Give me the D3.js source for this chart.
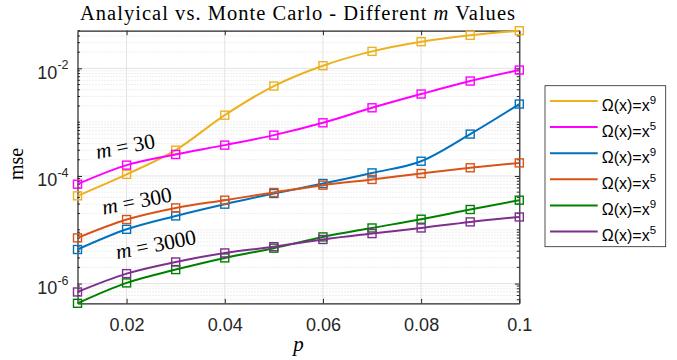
<!DOCTYPE html>
<html>

<head>
    <title>Analytical vs Monte Carlo</title>
    <script src="https://d3js.org/d3.v7.min.js"></script>
    <style>
        body {
            margin: 0;
            background: #fff;
        }

        .serif {
            font-family: "Liberation Serif", "Times New Roman", serif;
        }

        .sans {
            font-family: "Liberation Sans", Arial, sans-serif;
        }

        .axis path,
        .axis line {
            stroke: #262626;
        }
    </style>
</head>

<body>
    <div id="graph"></div>
    <script>
        // p values on the x axis
        const pValues = [0.01, 0.02, 0.03, 0.04, 0.05, 0.06, 0.07, 0.08, 0.09, 0.1];

        // mse values, one array per curve
        const m30x9 = [4.27e-5, 1.07e-4, 3.02e-4, 1.35e-3, 4.69e-3, 1.12e-2, 2.07e-2, 3.13e-2, 4.11e-2, 5.01e-2];
        const m30x5 = [7.03e-5, 1.59e-4, 2.51e-4, 3.74e-4, 5.74e-4, 9.73e-4, 1.85e-3, 3.33e-3, 5.81e-3, 9.3e-3];
        const m300x9 = [4.3e-6, 1.02e-5, 1.81e-5, 2.99e-5, 4.72e-5, 7.24e-5, 1.14e-4, 1.88e-4, 6.0e-4, 2.17e-3];
        const m300x5 = [7.06e-6, 1.55e-5, 2.55e-5, 3.55e-5, 4.93e-5, 6.75e-5, 8.61e-5, 1.11e-4, 1.42e-4, 1.75e-4];
        const m3000x9 = [4.3e-7, 1.03e-6, 1.82e-6, 3.0e-6, 4.55e-6, 7.37e-6, 1.08e-5, 1.57e-5, 2.38e-5, 3.55e-5];
        const m3000x5 = [6.98e-7, 1.53e-6, 2.52e-6, 3.71e-6, 4.85e-6, 6.6e-6, 8.5e-6, 1.08e-5, 1.4e-5, 1.73e-5];

        const seriesNames = ["m30x9", "m30x5", "m300x9", "m300x5", "m3000x9", "m3000x5"];
        const seriesValues = [m30x9, m30x5, m300x9, m300x5, m3000x9, m3000x5];
        const seriesExponents = ["9", "5", "9", "5", "9", "5"];
        const seriesColors = ["#EDB120", "#FF00FF", "#0072BD", "#D95319", "#008000", "#7E2F8E"];

        const xTicks = [0.02, 0.04, 0.06, 0.08, 0.1];
        const yTicks = [1e-6, 1e-4, 1e-2];

        // m annotations: label and the p / mse point where the text starts
        const annotations = [
            { label: "30", p: 0.0140, v: 2.06e-4 },
            { label: "300", p: 0.0153, v: 1.9e-5 },
            { label: "3000", p: 0.0181, v: 2.83e-6 }
        ];

        const totalWidth = 677, totalHeight = 360;
        const margin = { top: 30.7, right: 157.7, bottom: 56.7, left: 77.5 },
            width = totalWidth - margin.left - margin.right,
            height = totalHeight - margin.top - margin.bottom;

        const svg = d3.select("#graph").append("svg")
            .attr("width", totalWidth)
            .attr("height", totalHeight);

        const g = svg.append("g")
            .attr("transform", "translate(" + margin.left + "," + margin.top + ")");

        const x = d3.scaleLinear()
            .domain(d3.extent(pValues))
            .range([0, width]);

        const allValues = seriesValues.flat();
        const y = d3.scaleLog()
            .domain(d3.extent(allValues))
            .range([height, 0]);

        // minor tick / grid positions on the log axis
        const minorY = [];
        for (let e = -7; e <= -1; e++) {
            for (let k = 1; k <= 9; k++) {
                const v = k * Math.pow(10, e);
                if (v >= y.domain()[0] && v <= y.domain()[1] && !yTicks.some(t => Math.abs(t - v) < v * 1e-6)) minorY.push(v);
            }
        }

        // grid
        g.append("g")
            .selectAll("line")
            .data(minorY)
            .enter().append("line")
            .attr("x1", 0).attr("x2", width)
            .attr("y1", d => y(d)).attr("y2", d => y(d))
            .attr("stroke", "#c8c8c8")
            .attr("stroke-width", 0.6)
            .attr("stroke-dasharray", "1,2");

        g.append("g")
            .selectAll("line")
            .data(yTicks)
            .enter().append("line")
            .attr("x1", 0).attr("x2", width)
            .attr("y1", d => y(d)).attr("y2", d => y(d))
            .attr("stroke", "#e3e3e3")
            .attr("stroke-width", 1);

        g.append("g")
            .selectAll("line")
            .data(xTicks)
            .enter().append("line")
            .attr("x1", d => x(d)).attr("x2", d => x(d))
            .attr("y1", 0).attr("y2", height)
            .attr("stroke", "#e3e3e3")
            .attr("stroke-width", 1);

        // axes with inward ticks on all four sides
        const xAxis = g.append("g")
            .attr("class", "axis sans")
            .attr("transform", "translate(0," + height + ")")
            .call(d3.axisBottom(x).tickValues(xTicks).tickSizeInner(-4.5).tickSizeOuter(0)
                .tickFormat(d => d === 0.1 ? "0.1" : d3.format(".2f")(d)));
        xAxis.selectAll(".tick text")
            .attr("y", 27.5)
            .attr("dy", null)
            .attr("font-size", 18)
            .attr("fill", "#262626");
        xAxis.select(".domain").attr("stroke-width", 1.2);

        g.append("g")
            .attr("class", "axis")
            .call(d3.axisTop(x).tickValues(xTicks).tickSizeInner(-4.5).tickSizeOuter(0).tickFormat(""))
            .select(".domain").attr("stroke-width", 1.2);

        const yAxis = g.append("g")
            .attr("class", "axis sans")
            .call(d3.axisLeft(y).tickValues(yTicks).tickSizeInner(-4.5).tickSizeOuter(0).tickFormat(""));
        yAxis.select(".domain").attr("stroke-width", 1.2);
        yAxis.selectAll(".tick text").each(function (d) {
            const t = d3.select(this)
                .attr("x", -9)
                .attr("dy", null)
                .attr("y", 0)
                .attr("fill", "#262626")
                .attr("text-anchor", "end");
            t.append("tspan").attr("font-size", 18).attr("dy", 10).text("10");
            t.append("tspan").attr("font-size", 12.5).attr("dy", -9.5).text(Math.round(Math.log10(d)));
        });

        g.append("g")
            .attr("class", "axis")
            .attr("transform", "translate(" + width + ",0)")
            .call(d3.axisRight(y).tickValues(yTicks).tickSizeInner(-4.5).tickSizeOuter(0).tickFormat(""))
            .select(".domain").attr("stroke-width", 1.2);

        // minor ticks left and right
        g.append("g")
            .selectAll("line")
            .data(minorY)
            .enter().append("line")
            .attr("x1", 0).attr("x2", 2.5)
            .attr("y1", d => y(d)).attr("y2", d => y(d))
            .attr("stroke", "#262626");
        g.append("g")
            .selectAll("line")
            .data(minorY)
            .enter().append("line")
            .attr("x1", width - 2.5).attr("x2", width)
            .attr("y1", d => y(d)).attr("y2", d => y(d))
            .attr("stroke", "#262626");

        // curves and markers
        const line = d3.line()
            .x((d, i) => x(pValues[i]))
            .y(d => y(d))
            .curve(d3.curveMonotoneX);

        seriesValues.forEach((vals, s) => {
            g.append("path")
                .datum(vals)
                .attr("fill", "none")
                .attr("stroke", seriesColors[s])
                .attr("stroke-width", 2)
                .attr("d", line);

            g.append("g")
                .selectAll("rect")
                .data(vals)
                .enter().append("rect")
                .attr("x", (d, i) => x(pValues[i]) - 4)
                .attr("y", d => y(d) - 4)
                .attr("width", 8)
                .attr("height", 8)
                .attr("fill", "none")
                .attr("stroke", seriesColors[s])
                .attr("stroke-width", 1.4);
        });

        // m = ... labels
        annotations.forEach(a => {
            const t = g.append("text")
                .attr("class", "serif")
                .attr("font-size", 21.5)
                .attr("fill", "#000")
                .attr("transform", "translate(" + x(a.p) + "," + y(a.v) + ") rotate(-11)");
            t.append("tspan").attr("font-style", "italic").text("m");
            t.append("tspan").text(" = " + a.label);
        });

        // title
        const title = svg.append("text")
            .attr("class", "serif")
            .attr("x", 297.5)
            .attr("y", 20)
            .attr("text-anchor", "middle")
            .attr("font-size", 20.5)
            .attr("textLength", 435)
            .attr("lengthAdjust", "spacing")
            .attr("fill", "#000");
        title.append("tspan").text("Analyical vs. Monte Carlo - Different ");
        title.append("tspan").attr("font-style", "italic").text("m");
        title.append("tspan").text(" Values");

        // axis labels
        svg.append("text")
            .attr("class", "serif")
            .attr("x", margin.left + width / 2)
            .attr("y", 351)
            .attr("text-anchor", "middle")
            .attr("font-size", 21)
            .attr("font-style", "italic")
            .text("p");

        svg.append("text")
            .attr("class", "serif")
            .attr("transform", "translate(23," + (margin.top + height / 2 - 3) + ") rotate(-90)")
            .attr("text-anchor", "middle")
            .attr("font-size", 20)
            .text("mse");

        // legend
        const legend = svg.append("g")
            .attr("class", "sans")
            .attr("transform", "translate(545,85.7)");

        legend.append("rect")
            .attr("width", 120.7)
            .attr("height", 161)
            .attr("fill", "#fff")
            .attr("stroke", "#262626")
            .attr("stroke-width", 0.8);

        const item = legend.selectAll(".item")
            .data(seriesNames)
            .enter().append("g")
            .attr("class", "item")
            .attr("transform", (d, i) => "translate(0," + (15.3 + i * 26.1) + ")");

        item.append("line")
            .attr("x1", 5).attr("x2", 52.7)
            .attr("stroke", (d, i) => seriesColors[i])
            .attr("stroke-width", 2);

        const label = item.append("text")
            .attr("x", 56.7)
            .attr("y", 9.5)
            .attr("font-size", 16)
            .attr("fill", "#000");
        label.append("tspan").text("\u03a9(x)=x");
        label.append("tspan").attr("font-size", 11.5).attr("dy", -7).text((d, i) => seriesExponents[i]);
    </script>
</body>

</html>
